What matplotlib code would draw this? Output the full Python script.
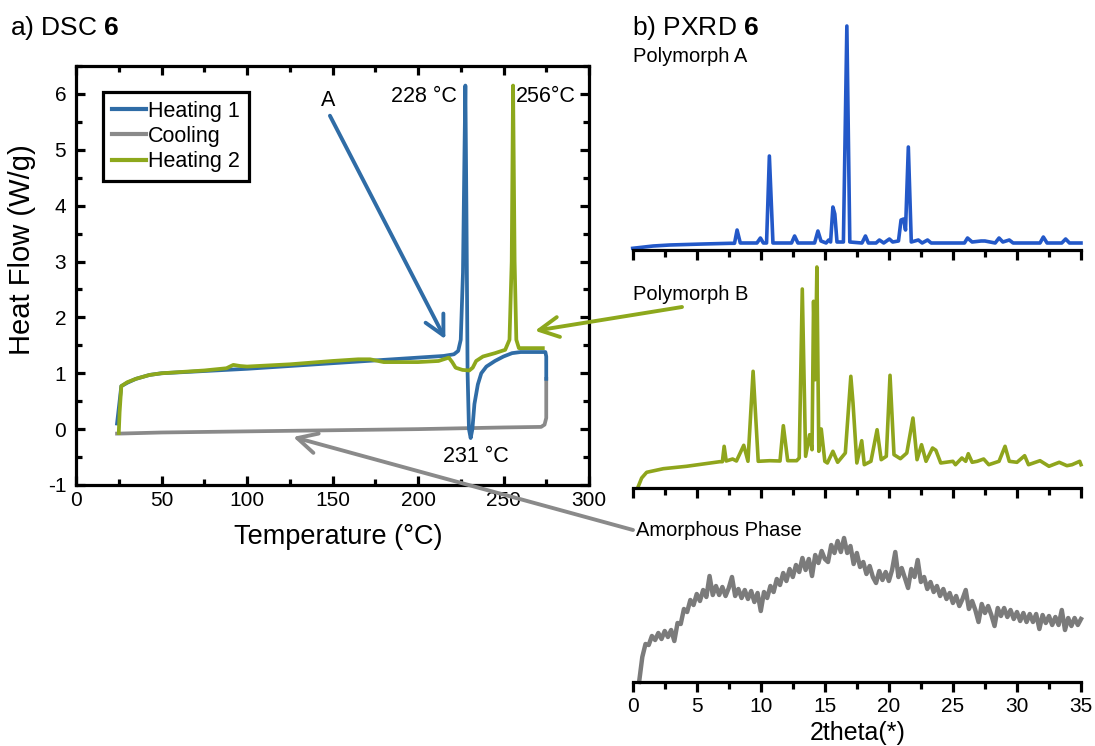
import numpy as np
import matplotlib
matplotlib.use("Agg")
import matplotlib.pyplot as plt
from matplotlib.ticker import MultipleLocator
from matplotlib.lines import Line2D

plt.rcParams['font.family'] = ['Liberation Sans', 'DejaVu Sans']
plt.rcParams['mathtext.fontset'] = 'custom'
plt.rcParams['mathtext.rm'] = 'Liberation Sans'
plt.rcParams['mathtext.bf'] = 'Liberation Sans:bold'
plt.rcParams['axes.unicode_minus'] = False

# ---------------- DSC data (temperature in °C, heat flow in W/g) ----------------
heat1_T = [24, 25.5, 26.5, 30, 35, 43, 50, 75, 100, 125, 150, 175, 200, 215, 221,
           223.5, 225, 226.3, 227.2, 227.7, 228.3, 229, 229.8, 230.8, 231.8, 233,
           235, 237, 240, 245, 250, 255, 260, 274.5, 275, 275]
heat1_HF = [0.1, 0.5, 0.77, 0.83, 0.9, 0.97, 1.0, 1.04, 1.08, 1.13, 1.18, 1.23, 1.28,
            1.31, 1.34, 1.4, 1.6, 2.8, 5.0, 6.15, 4.0, 1.0, 0.0, -0.16, 0.0, 0.45,
            0.8, 1.0, 1.12, 1.22, 1.3, 1.36, 1.38, 1.38, 1.3, 0.9]

cool_T = [275, 275, 274, 272, 250, 200, 150, 100, 50, 25, 24]
cool_HF = [0.9, 0.2, 0.08, 0.04, 0.03, 0.0, -0.02, -0.04, -0.06, -0.08, -0.08]

heat2_T = [25, 25.5, 26.5, 30, 35, 43, 50, 75, 88, 92, 96, 100, 125, 150, 165, 172,
           180, 200, 212, 216, 218, 220, 222, 226, 230, 232, 234, 238, 245, 251,
           253.5, 254.8, 255.6, 256.5, 257.5, 259, 273]
heat2_HF = [-0.07, 0.3, 0.77, 0.84, 0.9, 0.97, 1.0, 1.05, 1.09, 1.15, 1.13, 1.12,
            1.16, 1.22, 1.25, 1.25, 1.2, 1.2, 1.22, 1.26, 1.28, 1.2, 1.1, 1.06, 1.05,
            1.1, 1.22, 1.3, 1.36, 1.42, 1.6, 3.0, 6.15, 3.0, 1.6, 1.45, 1.45]

# ---------------- PXRD data (2theta in degrees, intensity in arb. units) ----------------
polyA_2t = [0.0, 1.6, 2.9, 5.5, 7.6, 7.95, 8.15, 8.4, 9.7, 9.97, 10.2, 10.45, 10.67,
            10.95, 12.4, 12.64, 12.9, 14.2, 14.46, 14.7, 15.1, 15.3, 15.45, 15.63,
            15.78, 15.95, 16.45, 16.72, 16.95, 17.9, 18.17, 18.4, 19.0, 19.26, 19.6,
            20.04, 20.3, 20.75, 20.95, 21.15, 21.3, 21.52, 21.75, 22.3, 22.6, 23.02,
            23.3, 25.9, 26.14, 26.5, 27.2, 27.5, 28.3, 28.6, 28.9, 29.4, 29.7, 31.8,
            32.06, 32.35, 33.5, 33.8, 34.1, 35.0]
polyA_I = [1.7, 4.0, 5.0, 6.0, 6.7, 6.7, 20, 7, 7, 12, 7, 7, 94, 7, 7, 14, 7, 7, 19,
           9, 7, 10, 8, 43, 36, 8, 8, 224, 8, 7, 14, 7, 7, 10, 7, 11, 8, 9, 30, 31, 20,
           103, 8, 10, 7, 10, 7, 7, 12, 8, 9, 9, 7, 12, 8, 10, 7, 7, 13, 7, 7, 11, 7, 7]

polyB_2t = [0.44, 0.7, 1.09, 2.39, 4.2, 6.8, 7.0, 7.14, 7.3, 7.8, 8.1, 8.67, 9.0, 9.4,
            9.8, 10.7, 11.5, 11.76, 12.1, 12.8, 13.0, 13.24, 13.5, 13.81, 14.0, 14.12,
            14.25, 14.38, 14.53, 14.72, 15.0, 15.2, 15.63, 16.0, 16.6, 17.03, 17.2,
            17.5, 17.88, 18.08, 18.6, 19.08, 19.4, 19.8, 20.09, 20.4, 20.9, 21.4,
            21.88, 22.2, 22.55, 22.9, 23.41, 23.67, 24.05, 25.0, 25.2, 25.7, 26.0,
            26.2, 26.5, 26.9, 27.4, 27.8, 28.6, 29.07, 29.4, 30.0, 30.6, 30.9, 31.8,
            32.5, 33.3, 33.9, 34.3, 34.9, 35.0]
polyB_I = [1.7, 10, 15.7, 19.3, 21.7, 26.3, 26.3, 41.7, 27, 29, 27, 42.7, 26.7, 116.7,
           26.7, 27.3, 27, 62.3, 27.3, 27.3, 30, 199, 31.7, 53.3, 38.3, 186.7, 108.3,
           221, 36.7, 59, 26.7, 25, 36.7, 25.7, 35, 111.7, 85, 25, 47.3, 23.3, 26.7,
           58.3, 28.3, 31.7, 112.7, 33.3, 29.3, 35, 70, 28.3, 43.3, 26.7, 40, 37.7, 25,
           26.7, 23.3, 30, 26.7, 34.3, 25.7, 26.7, 29, 23.3, 26.7, 41.7, 26.7, 25.7,
           32.3, 23.3, 27.3, 21.7, 25.7, 22.3, 23.3, 26.7, 23.3]

# amorphous pattern, recorded every 0.25 degrees starting at 0.5 degrees
amorph_start, amorph_step = 0.5, 0.25
amorph_I = [
    0, 25, 38, 37, 46, 42, 49, 43, 51, 45, 52, 41,
    59, 58, 73, 70, 82, 77, 88, 81, 92, 85, 106, 87,
    96, 87, 95, 86, 94, 105, 86, 93, 84, 92, 83, 91,
    80, 89, 71, 90, 84, 96, 90, 103, 97, 109, 101, 113,
    105, 117, 110, 124, 112, 123, 106, 127, 119, 131, 123, 120,
    137, 129, 141, 130, 144, 129, 136, 118, 129, 115, 120, 108,
    116, 105, 99, 111, 102, 110, 101, 112, 130, 105, 114, 104,
    94, 113, 105, 122, 100, 105, 93, 100, 90, 96, 86, 93,
    83, 89, 79, 86, 76, 83, 92, 73, 81, 72, 60, 78,
    69, 76, 67, 56, 74, 66, 74, 65, 72, 63, 70, 61,
    69, 60, 68, 60, 68, 53, 67, 59, 66, 57, 65, 57,
    72, 52, 64, 56, 64, 57, 63]
amorph_2t = amorph_start + amorph_step * np.arange(len(amorph_I))

C_H1 = '#2F6CA6'
C_COOL = '#8A8A8A'
C_H2 = '#8DA81C'
C_PA = '#2358C8'
C_PB = '#8FA51C'
C_AM = '#7B7B7B'

W, H = 1095, 746
fig = plt.figure(figsize=(W / 100, H / 100), dpi=100)


def fx(x):
    return x / W


def fy(y):
    return 1 - y / H


def box(left, top, right, bottom):
    return [fx(left), fy(bottom), (right - left) / W, (bottom - top) / H]


# ---------------- a) DSC ----------------
ax = fig.add_axes(box(76, 66, 589, 485))
ax.plot(cool_T, cool_HF, color=C_COOL, lw=2.7, zorder=2, solid_joinstyle='round')
ax.plot(heat1_T, heat1_HF, color=C_H1, lw=2.7, zorder=3, solid_joinstyle='round')
ax.plot(heat2_T, heat2_HF, color=C_H2, lw=2.7, zorder=4, solid_joinstyle='round')
ax.set_xlim(0, 300)
ax.set_ylim(-1, 6.5)
ax.xaxis.set_major_locator(MultipleLocator(50))
ax.xaxis.set_minor_locator(MultipleLocator(25))
ax.yaxis.set_major_locator(MultipleLocator(1))
ax.yaxis.set_minor_locator(MultipleLocator(0.5))
for s in ax.spines.values():
    s.set_linewidth(2.3)
ax.tick_params(which='both', direction='in', top=True, right=True, width=2.3,
               labelsize=15)
ax.tick_params(which='major', length=6.5)
ax.tick_params(which='minor', length=4)
ax.tick_params(axis='x', pad=4)
ax.tick_params(axis='y', pad=7)

handles = [Line2D([], [], color=C_H1, lw=3),
           Line2D([], [], color=C_COOL, lw=3),
           Line2D([], [], color=C_H2, lw=3)]
leg = ax.legend(handles, ['Heating 1', 'Cooling', 'Heating 2'],
                loc='upper left', bbox_to_anchor=(fx(103), fy(92)),
                bbox_transform=fig.transFigure, borderaxespad=0,
                fontsize=15.5, frameon=True, fancybox=False, framealpha=1,
                edgecolor='black', handlelength=1.6, handletextpad=0.1,
                labelspacing=0.2, borderpad=0.4)
leg.get_frame().set_linewidth(2.3)

fig.text(fx(10), fy(28), r'a) DSC $\mathbf{6}$', fontsize=19, va='center', ha='left')
fig.text(fx(338), fy(537), 'Temperature (°C)', fontsize=19.5, va='center', ha='center')
fig.text(fx(22), fy(250), 'Heat Flow (W/g)', fontsize=21, va='center', ha='center',
         rotation=90)
fig.text(fx(328), fy(101), 'A', fontsize=15.5, va='center', ha='center')
fig.text(fx(457), fy(97), '228 °C', fontsize=15.5, va='center', ha='right')
fig.text(fx(516), fy(97), '256°C', fontsize=15.5, va='center', ha='left')
fig.text(fx(476), fy(457), '231 °C', fontsize=15.5, va='center', ha='center')

head = '->, head_length=0.7, head_width=0.36'
ax.annotate('', xy=(216, 1.61), xytext=(148.5, 5.61),
            arrowprops=dict(arrowstyle=head, color=C_H1, lw=2.8, shrinkA=0,
                            shrinkB=0, mutation_scale=20))
ax.annotate('', xy=(268.4, 1.76), xytext=(fx(682), fy(307)),
            textcoords='figure fraction', annotation_clip=False,
            arrowprops=dict(arrowstyle=head, color=C_H2, lw=2.8, shrinkA=0,
                            shrinkB=0, mutation_scale=20))
ax.annotate('', xy=(127, -0.14), xytext=(fx(633), fy(530)),
            textcoords='figure fraction', annotation_clip=False,
            arrowprops=dict(arrowstyle=head, color=C_COOL, lw=2.8, shrinkA=0,
                            shrinkB=0, mutation_scale=20))

# ---------------- b) PXRD ----------------
def pxrd_axes(rect, ymax, show_labels):
    a = fig.add_axes(rect)
    a.set_xlim(0, 35)
    a.set_ylim(0, ymax)
    for k in ('top', 'left', 'right'):
        a.spines[k].set_visible(False)
    a.spines['bottom'].set_linewidth(2.3)
    a.yaxis.set_visible(False)
    a.xaxis.set_major_locator(MultipleLocator(5))
    a.xaxis.set_minor_locator(MultipleLocator(2.5))
    a.tick_params(which='both', direction='out', width=2.3, labelsize=15, pad=3,
                  labelbottom=show_labels)
    a.tick_params(which='major', length=7.5)
    a.tick_params(which='minor', length=5)
    a.patch.set_alpha(0)
    return a


axA = pxrd_axes(box(632.7, 15, 1081, 250), 235, False)
axA.plot(polyA_2t, polyA_I, color=C_PA, lw=2.6, solid_joinstyle='round', clip_on=False)

axB = pxrd_axes(box(632.7, 260, 1081, 488), 228, False)
axB.plot(polyB_2t, polyB_I, color=C_PB, lw=2.6, solid_joinstyle='round', clip_on=False)

axC = pxrd_axes(box(632.7, 510, 1081, 682), 172, True)
axC.plot(amorph_2t, amorph_I, color=C_AM, lw=3.2, solid_joinstyle='round', clip_on=False)

fig.text(fx(632), fy(28), r'b) PXRD $\mathbf{6}$', fontsize=19, va='center', ha='left')
fig.text(fx(633), fy(57), 'Polymorph A', fontsize=14.5, va='center', ha='left')
fig.text(fx(633), fy(294), 'Polymorph B', fontsize=14.5, va='center', ha='left')
fig.text(fx(636), fy(530), 'Amorphous Phase', fontsize=14.5, va='center', ha='left')
fig.text(fx(858), fy(733), '2theta(*)', fontsize=18, va='center', ha='center')

fig.savefig('out.png', dpi=100)
